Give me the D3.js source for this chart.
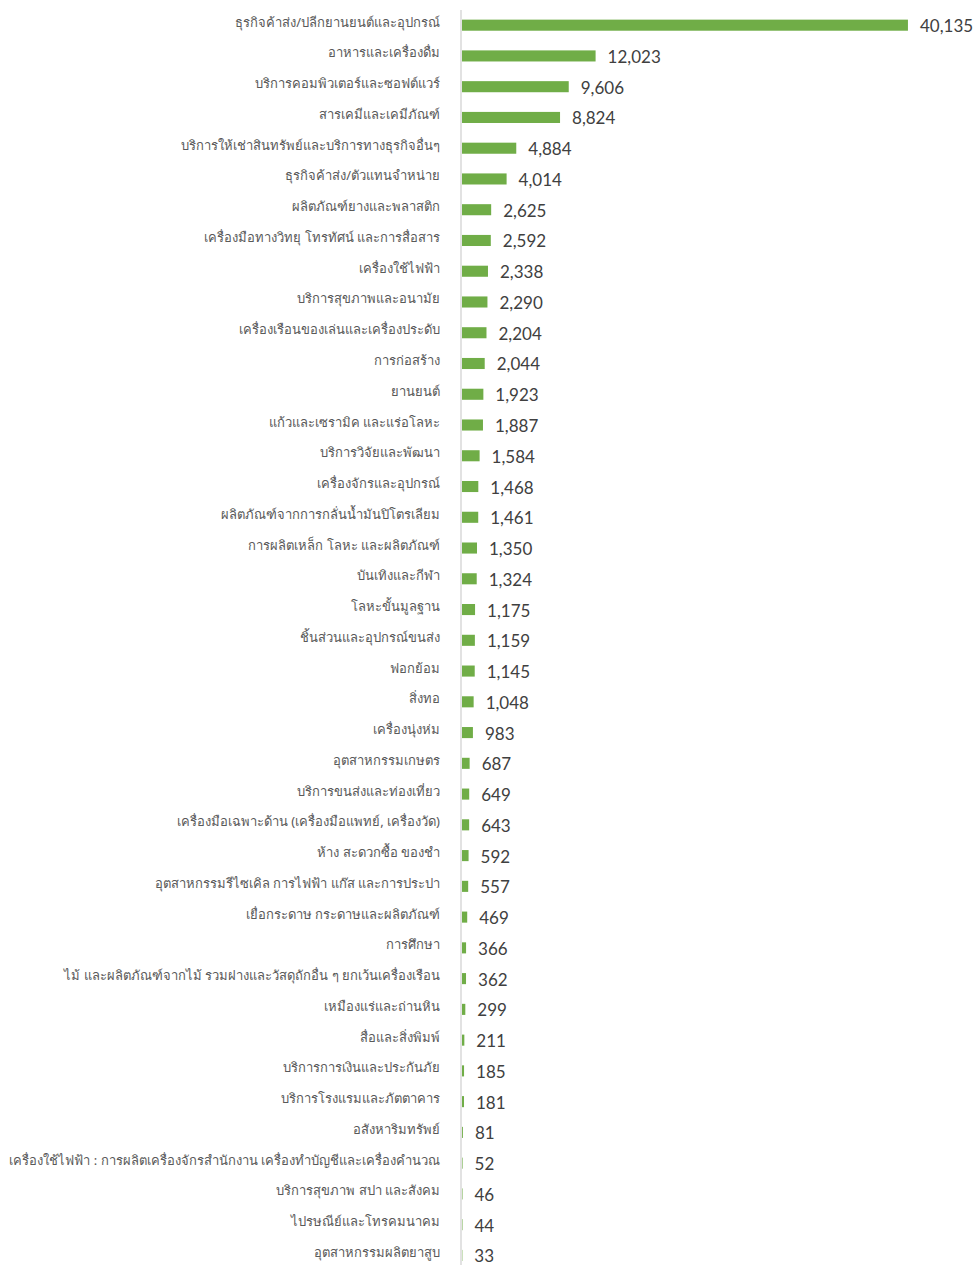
<!DOCTYPE html>
<html><head><meta charset="utf-8">
<script src="https://cdn.jsdelivr.net/npm/d3@7"></script>
<style>body{margin:0;background:#fff}svg{display:block}</style>
</head><body>
<script>
const categories = [
"ธุรกิจค้าส่ง/ปลีกยานยนต์และอุปกรณ์","อาหารและเครื่องดื่ม","บริการคอมพิวเตอร์และซอฟต์แวร์","สารเคมีและเคมีภัณฑ์",
"บริการให้เช่าสินทรัพย์และบริการทางธุรกิจอื่นๆ","ธุรกิจค้าส่ง/ตัวแทนจำหน่าย","ผลิตภัณฑ์ยางและพลาสติก",
"เครื่องมือทางวิทยุ โทรทัศน์ และการสื่อสาร","เครื่องใช้ไฟฟ้า","บริการสุขภาพและอนามัย","เครื่องเรือนของเล่นและเครื่องประดับ",
"การก่อสร้าง","ยานยนต์","แก้วและเซรามิค และแร่อโลหะ","บริการวิจัยและพัฒนา","เครื่องจักรและอุปกรณ์",
"ผลิตภัณฑ์จากการกลั่นน้ำมันปิโตรเลียม","การผลิตเหล็ก โลหะ และผลิตภัณฑ์","บันเทิงและกีฬา","โลหะขั้นมูลฐาน",
"ชิ้นส่วนและอุปกรณ์ขนส่ง","ฟอกย้อม","สิ่งทอ","เครื่องนุ่งห่ม","อุตสาหกรรมเกษตร","บริการขนส่งและท่องเที่ยว",
"เครื่องมือเฉพาะด้าน (เครื่องมือแพทย์, เครื่องวัด)","ห้าง สะดวกซื้อ ของชำ","อุตสาหกรรมรีไซเคิล การไฟฟ้า แก๊ส และการประปา",
"เยื่อกระดาษ กระดาษและผลิตภัณฑ์","การศึกษา","ไม้ และผลิตภัณฑ์จากไม้ รวมฝางและวัสดุถักอื่น ๆ ยกเว้นเครื่องเรือน",
"เหมืองแร่และถ่านหิน","สื่อและสิ่งพิมพ์","บริการการเงินและประกันภัย","บริการโรงแรมและภัตตาคาร","อสังหาริมทรัพย์",
"เครื่องใช้ไฟฟ้า : การผลิตเครื่องจักรสำนักงาน เครื่องทำบัญชีและเครื่องคำนวณ","บริการสุขภาพ สปา และสังคม",
"ไปรษณีย์และโทรคมนาคม","อุตสาหกรรมผลิตยาสูบ"];
const values = [40135,12023,9606,8824,4884,4014,2625,2592,2338,2290,2204,2044,1923,1887,1584,1468,1461,1350,1324,1175,
1159,1145,1048,983,687,649,643,592,557,469,366,362,299,211,185,181,81,52,46,44,33];

const W = 975, H = 1265;
const svg = d3.select("body").append("svg").attr("width", W).attr("height", H);
const data = categories.map((c,i)=>({c, v: values[i]}));

const x = d3.scaleLinear().domain([0, 45000]).range([462, 962]);
const y = d3.scaleBand().domain(categories).range([9.8, 1270.8]).paddingInner(0.64).paddingOuter(0.32);

svg.append("line").attr("x1",461).attr("x2",461).attr("y1",10).attr("y2",H)
  .attr("stroke","#d9d9d9").attr("stroke-width",1.5);

svg.selectAll("rect.bar").data(data).join("rect").attr("class","bar")
  .attr("x", x(0)).attr("y", d=>y(d.c)).attr("width", d=>x(d.v)-x(0)).attr("height", y.bandwidth())
  .attr("fill","#70ad47");

svg.selectAll("text.val").data(data).join("text").attr("class","val")
  .attr("x", d=>x(d.v)+12).attr("y", d=>y(d.c)+y.bandwidth()/2+7)
  .attr("font-family","Lato, sans-serif").attr("font-size",17).attr("fill","#404040")
  .text(d=>d3.format(",")(d.v));

svg.selectAll("text.cat").data(data).join("text").attr("class","cat")
  .attr("x", 440).attr("y", d=>y(d.c)+y.bandwidth()/2+1.5)
  .attr("text-anchor","end")
  .attr("font-family","'Noto Sans', sans-serif").attr("font-size",13).attr("fill","#595959")
  .text(d=>d.c);
</script>
</body></html>
